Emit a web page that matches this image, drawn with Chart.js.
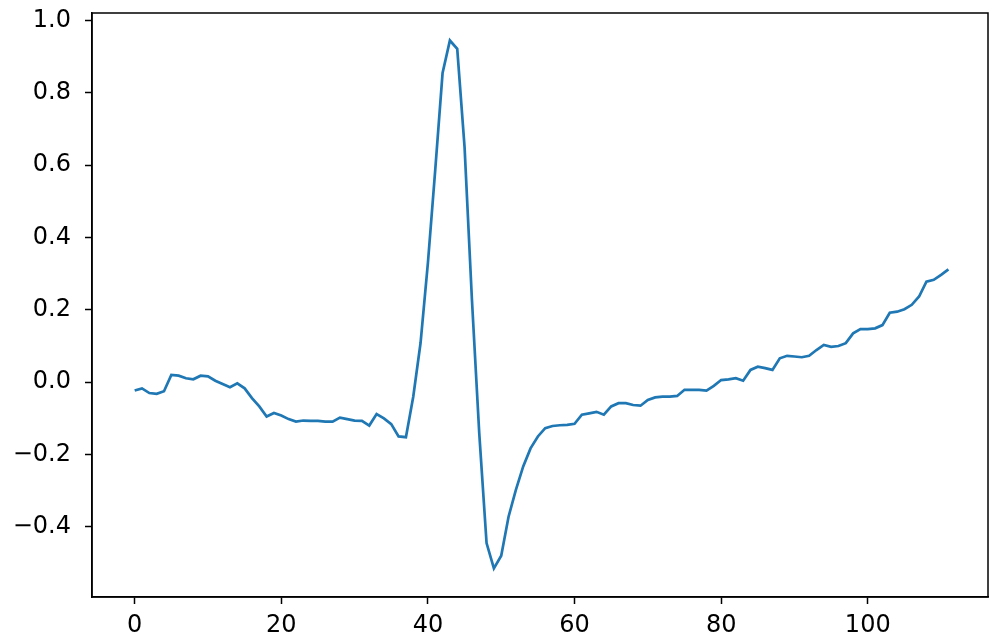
<!DOCTYPE html>
<html>
<head>
<meta charset="utf-8">
<script src="https://cdn.jsdelivr.net/npm/chart.js@4/dist/chart.umd.min.js"></script>
<style>
  html, body { margin: 0; padding: 0; background: #fff; }
  #wrap { width: 1001px; height: 644px; }
</style>
</head>
<body>
<div id="wrap"><canvas id="chart_signal" width="1001" height="644"></canvas></div>
<script>
// sample values, one per index 0..111
let signalValues = [
  -0.023, -0.017, -0.030, -0.032, -0.025, 0.020, 0.018, 0.011, 0.008, 0.018,
  0.016, 0.004, -0.005, -0.014, -0.003, -0.017, -0.044, -0.067, -0.095, -0.085,
  -0.092, -0.102, -0.109, -0.106, -0.107, -0.107, -0.109, -0.109, -0.098, -0.102,
  -0.106, -0.107, -0.120, -0.088, -0.100, -0.116, -0.150, -0.152, -0.040, 0.109,
  0.330, 0.587, 0.855, 0.945, 0.922, 0.650, 0.230, -0.140, -0.445, -0.515,
  -0.480, -0.372, -0.298, -0.233, -0.183, -0.150, -0.127, -0.121, -0.119, -0.118,
  -0.115, -0.090, -0.086, -0.082, -0.090, -0.067, -0.058, -0.058, -0.063, -0.065,
  -0.049, -0.042, -0.040, -0.040, -0.038, -0.021, -0.021, -0.021, -0.023, -0.010,
  0.006, 0.008, 0.011, 0.004, 0.034, 0.043, 0.039, 0.034, 0.066, 0.073,
  0.071, 0.069, 0.073, 0.089, 0.103, 0.098, 0.100, 0.108, 0.135, 0.147,
  0.147, 0.149, 0.158, 0.192, 0.195, 0.202, 0.214, 0.237, 0.278, 0.283,
  0.297, 0.312
];
let sampleIndex = signalValues.map((v, i) => i);

let xTickValues = [0, 20, 40, 60, 80, 100];
let yTickValues = [-0.4, -0.2, 0.0, 0.2, 0.4, 0.6, 0.8, 1.0];

Chart.defaults.font.family = "'DejaVu Sans', sans-serif";
Chart.defaults.font.size = 24;
Chart.defaults.color = '#000';

// matplotlib-like box round the plot area
const frameBox = {
  id: 'frameBox',
  afterDraw(chart) {
    const ctx = chart.ctx;
    const a = chart.chartArea;
    ctx.save();
    ctx.strokeStyle = '#000';
    ctx.lineWidth = 1.5;
    ctx.strokeRect(a.left, a.top, a.right - a.left, a.bottom - a.top);
    ctx.restore();
  }
};

new Chart(document.getElementById("chart_signal"), {
  type: 'line',
  data: {
    datasets: [{
      data: sampleIndex.map((x, i) => ({ x: x, y: signalValues[i] })),
      borderColor: '#1f77b4',
      borderWidth: 2.7,
      pointRadius: 0,
      tension: 0,
      fill: false
    }]
  },
  options: {
    responsive: false,
    animation: false,
    layout: { padding: { left: 0, top: 13, right: 13, bottom: 0 } },
    plugins: {
      legend: { display: false },
      tooltip: { enabled: false }
    },
    scales: {
      x: {
        type: 'linear',
        min: -5.82,
        max: 116.4,
        afterBuildTicks: (axis) => { axis.ticks = xTickValues.map(v => ({ value: v })); },
        afterFit: (scale) => {
          scale.height = 47;
          scale.paddingLeft = 0;
          scale.paddingRight = 0;
        },
        ticks: { padding: 7, maxRotation: 0, callback: (v) => String(v) },
        grid: { drawOnChartArea: false, tickLength: 7, tickColor: '#000', tickWidth: 1.5 },
        border: { display: true, color: '#000', width: 1.5 }
      },
      y: {
        min: -0.594,
        max: 1.021,
        afterBuildTicks: (axis) => { axis.ticks = yTickValues.map(v => ({ value: v })); },
        afterFit: (scale) => {
          scale.width = 92;
          scale.paddingTop = 0;
          scale.paddingBottom = 0;
        },
        ticks: { padding: 14, callback: (v) => v.toFixed(1).replace('-', '\u2212') },
        grid: { drawOnChartArea: false, tickLength: 7, tickColor: '#000', tickWidth: 1.5 },
        border: { display: true, color: '#000', width: 1.5 }
      }
    }
  },
  plugins: [frameBox]
});
</script>
</body>
</html>
